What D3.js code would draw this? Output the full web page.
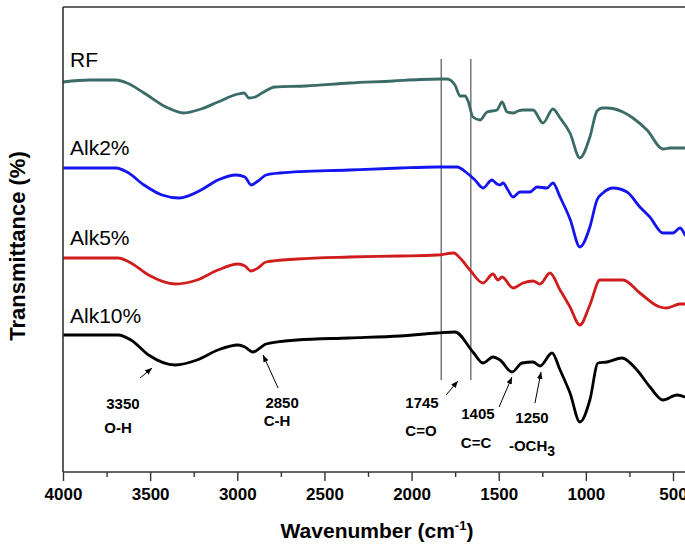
<!DOCTYPE html>
<html>
<head>
<meta charset="utf-8">
<script src="https://cdn.jsdelivr.net/npm/d3@7"></script>
<style>
  html, body { margin: 0; padding: 0; background: #fff; }
  svg { display: block; }
</style>
</head>
<body>
<svg id="chart" width="685" height="547"></svg>
<script>
// ---------------- DATA ----------------
const seriesNames = ["RF", "Alk2%", "Alk5%", "Alk10%"];

// wavenumbers (cm-1) and transmittance (offset, a.u.) for each spectrum
const rfWavenumber = [4000,3845,3696,3633,3535,3409,3309,3208,3111,2996,2961,2933,2898,2858,2784,2606,2357,2107,1952,1831,1797,1751,1722,1693,1676,1648,1607,1567,1510,1481,1452,1418,1389,1361,1303,1246,1189,1148,1091,1034,977,936,907,879,787,730,649,557,517,431];
const rfValues     = [390,392,392,389,379,365,359,363,370,378,379,374,375,379,385,386,389,391,392.5,393,393,387,376,376,371,355,352,360,362,370,360,359,361,362,362,349,363,354,339,314,335,361,364,364,360,354,342,323,324,324];

const alk2Wavenumber = [4000,3845,3696,3633,3535,3432,3334,3208,3111,3007,2956,2921,2881,2835,2755,2359,2066,1854,1739,1682,1636,1590,1539,1510,1492,1475,1447,1418,1378,1321,1280,1223,1189,1148,1091,1034,977,936,902,844,764,690,633,557,500,460,431];
const alk2Values     = [304,304,304,300,287,277,274,282,292,297,295,287,291,297,299,302,304,305,305,299,292,284,292,288,287,289,282,275,280,280,285,284,289,275,253,225,245,272,279,284,280,265,255,239,239,244,237];

const alk5Wavenumber = [4000,3684,3610,3509,3357,3231,3111,2996,2956,2921,2881,2835,2657,2359,2066,1854,1757,1722,1665,1590,1533,1504,1481,1418,1361,1303,1263,1206,1148,1091,1034,977,919,862,787,690,576,536,460,431];
const alk5Values     = [214,214,209,197,188,192,202,208,206,201,204,210,213,215,216,217,219,214,202,189,198,192,195,184,189,191,188,199,182,165,147,167,192,192,192,179,165,164,168,168];

const alk10Wavenumber = [4000,3684,3610,3509,3357,3231,3111,2996,2956,2910,2870,2835,2657,2359,2066,1854,1751,1648,1590,1533,1493,1424,1366,1303,1263,1194,1148,1091,1034,977,930,879,793,707,632,557,477,431];
const alk10Values     = [137,137,132,117,107,112,122,127,125,120,124,128,132,134,136,139,140,120,109,115,112,100,109,110,106,119,102,79,50,72,109,110,114,102,85,72,77,75];

const seriesColors = ["#3b6b66", "#1414f0", "#cf1d1d", "#000000"];

// marker lines (cm-1) and their vertical extent (a.u.)
const markerWavenumbers = [1830, 1660];
const markerRange = [92, 413];

// x axis ticks
const majorTicks = [4000, 3500, 3000, 2500, 2000, 1500, 1000, 500];
const minorTicks = [3750, 3250, 2750, 2250, 1750, 1250, 750];

// peak annotations: number, group, label anchors and arrow (tail -> tip) in data coords
const peakNumbers = ["3350", "2850", "1745", "1405", "1250"];
const peakGroups  = ["O-H", "C-H", "C=O", "C=C", "-OCH"];
const peakNumberAt = [[3656, 69], [2743, 70], [1940, 70], [1619, 59], [1309, 55]];
const peakGroupAt  = [[3684, 45], [2772, 52], [1946, 42], [1630, 30], [1309, 27]];
const arrowTail = [[3558, 94], [2766, 84], [1802, 77], [1498, 65], [1292, 69]];
const arrowTip  = [[3489, 104], [2852, 117], [1734, 91], [1424, 95], [1257, 100]];

// series label anchors (data coords)
const seriesLabelAt = [[3960, 405], [3960, 317], [3960, 227], [3960, 149]];

// ---------------- DRAW ----------------
(function () {
const svg = d3.select("#chart");
const pLeft = 63, pTop = 7, pBottom = 472;
const pxPerUnit = 610 / 3500;
const x = d3.scaleLinear().domain([4000, 400]).range([pLeft, pLeft + 3600 * pxPerUnit]);
const y = d3.scaleLinear().domain([0, 465]).range([pBottom, pTop]);
const font = "Liberation Sans, Arial, sans-serif";

const defs = svg.append("defs");
defs.append("clipPath").attr("id", "plotclip")
  .append("rect").attr("x", pLeft).attr("y", pTop).attr("width", x(400) - pLeft).attr("height", pBottom - pTop);
defs.append("marker").attr("id", "arrowhead")
  .attr("viewBox", "0 0 10 10").attr("refX", 10).attr("refY", 5)
  .attr("markerWidth", 7).attr("markerHeight", 7).attr("orient", "auto")
  .attr("markerUnits", "userSpaceOnUse")
  .append("path").attr("d", "M0,1 L10,5 L0,9 Z").attr("fill", "#000");

// marker vertical lines
svg.append("g").selectAll("line").data(markerWavenumbers).join("line")
  .attr("x1", d => x(d)).attr("x2", d => x(d))
  .attr("y1", y(markerRange[1])).attr("y2", y(markerRange[0]))
  .attr("stroke", "#555").attr("stroke-width", 1.2);

// spectra
const allSeries = [
  [rfWavenumber, rfValues],
  [alk2Wavenumber, alk2Values],
  [alk5Wavenumber, alk5Values],
  [alk10Wavenumber, alk10Values]
];
const line = d3.line().x(d => x(d[0])).y(d => y(d[1])).curve(d3.curveMonotoneX);
const g = svg.append("g").attr("clip-path", "url(#plotclip)");
allSeries.forEach((s, i) => {
  const pts = s[0].map((w, j) => [w, s[1][j]]);
  g.append("path").datum(pts)
    .attr("d", line).attr("fill", "none")
    .attr("stroke", seriesColors[i]).attr("stroke-width", 2.8)
    .attr("stroke-linejoin", "round").attr("stroke-linecap", "round");
});

// series labels
svg.append("g").selectAll("text").data(seriesNames).join("text")
  .attr("x", (d, i) => x(seriesLabelAt[i][0]))
  .attr("y", (d, i) => y(seriesLabelAt[i][1]))
  .attr("font-family", font)
  .attr("font-size", 21).attr("fill", "#000")
  .text(d => d);

// frame: top, left, right
svg.append("line").attr("x1", pLeft).attr("x2", x(400)).attr("y1", pTop).attr("y2", pTop)
  .attr("stroke", "#333").attr("stroke-width", 1.6);
svg.append("line").attr("x1", pLeft).attr("x2", pLeft).attr("y1", pTop).attr("y2", pBottom)
  .attr("stroke", "#333").attr("stroke-width", 1.6);
svg.append("line").attr("x1", x(400)).attr("x2", x(400)).attr("y1", pTop).attr("y2", pBottom)
  .attr("stroke", "#333").attr("stroke-width", 1.6);

// x axis
const xAxis = svg.append("g").attr("transform", `translate(0,${pBottom})`)
  .call(d3.axisBottom(x).tickValues(majorTicks).tickSize(9).tickPadding(7).tickFormat(d3.format("d")));
xAxis.select(".domain").attr("stroke", "#333").attr("stroke-width", 1.6)
  .attr("d", `M${pLeft},0H${x(400)}`);
xAxis.selectAll(".tick line").attr("stroke", "#333").attr("stroke-width", 1.4);
xAxis.selectAll(".tick text")
  .attr("font-family", font)
  .attr("font-size", 17).attr("font-weight", "bold").attr("fill", "#000");
svg.append("g").attr("transform", `translate(0,${pBottom})`)
  .call(d3.axisBottom(x).tickValues(minorTicks).tickSize(5).tickFormat(""))
  .call(a => a.select(".domain").remove())
  .selectAll(".tick line").attr("stroke", "#333").attr("stroke-width", 1.4);

// axis titles
const xTitle = svg.append("text")
  .attr("x", 377).attr("y", 538).attr("text-anchor", "middle")
  .attr("font-family", font)
  .attr("font-size", 21).attr("font-weight", "bold").attr("fill", "#000");
xTitle.append("tspan").text("Wavenumber (cm");
xTitle.append("tspan").attr("dy", -8).attr("font-size", 13).text("-1");
xTitle.append("tspan").attr("dy", 8).text(")");

svg.append("text")
  .attr("transform", "translate(25,246) rotate(-90)")
  .attr("text-anchor", "middle")
  .attr("font-family", font)
  .attr("font-size", 22).attr("font-weight", "bold").attr("fill", "#000")
  .text("Transmittance (%)");

// annotations
const ann = svg.append("g")
  .attr("font-family", font)
  .attr("font-size", 15).attr("font-weight", "bold").attr("fill", "#000");
peakNumbers.forEach((t, i) => {
  ann.append("text").attr("x", x(peakNumberAt[i][0])).attr("y", y(peakNumberAt[i][1]))
    .attr("text-anchor", "middle").attr("dominant-baseline", "central").text(t);
  const gt = ann.append("text").attr("y", y(peakGroupAt[i][1])).attr("dominant-baseline", "central")
    .attr("x", x(peakGroupAt[i][0])).attr("text-anchor", "middle");
  if (i === 4) {
    gt.append("tspan").text(peakGroups[i]);
    gt.append("tspan").attr("dy", 6).attr("font-size", 14).text("3");
  } else {
    gt.text(peakGroups[i]);
  }
  svg.append("line")
    .attr("x1", x(arrowTail[i][0])).attr("y1", y(arrowTail[i][1]))
    .attr("x2", x(arrowTip[i][0])).attr("y2", y(arrowTip[i][1]))
    .attr("stroke", "#000").attr("stroke-width", 1)
    .attr("marker-end", "url(#arrowhead)");
});
})();
</script>
</body>
</html>
